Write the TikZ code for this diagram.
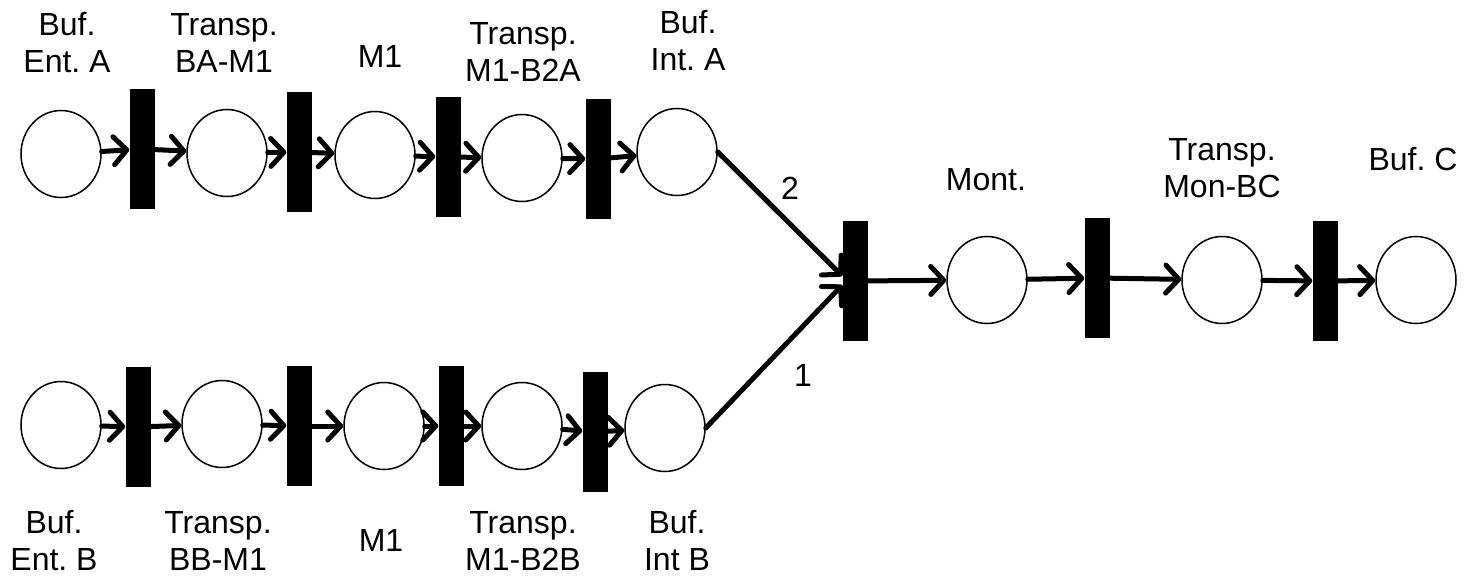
\documentclass[tikz,border=0pt]{standalone}
\usepackage{fontspec}
\setmainfont{Liberation Sans}
\usetikzlibrary{shapes.geometric,arrows.meta}
\frenchspacing

\begin{document}
\begin{tikzpicture}[x=1pt,y=-1pt,
        place/.style={ellipse,draw,line width=1.5pt,minimum width=80pt,minimum height=87pt,inner sep=0pt},
        trans/.style={rectangle,fill=black,minimum width=25pt,minimum height=120pt,inner sep=0pt},
        flow/.style={line width=5pt,line cap=round,-{Straight Barb[length=13pt,width=28pt,round]}},
        lbl/.style={align=center,inner sep=0pt,font=\fontsize{32}{37}\selectfont}]
        \useasboundingbox (0,0) rectangle (1474,577);

        % Line A
        \node[place] (pa1) at (61,154) {};
        \node[trans] (ta1) at (142,149) {};
        \node[place] (pa2) at (227,153) {};
        \node[trans] (ta2) at (299,152) {};
        \node[place] (pa3) at (375,155) {};
        \node[trans] (ta3) at (448,157) {};
        \node[place] (pa4) at (522,158) {};
        \node[trans] (ta4) at (598,159) {};
        \node[place] (pa5) at (677,152) {};

        % Line B
        \node[place] (pb1) at (61,425) {};
        \node[trans] (tb1) at (138,427) {};
        \node[place] (pb2) at (222,424) {};
        \node[trans] (tb2) at (299,426) {};
        \node[place] (pb3) at (384,426) {};
        \node[trans] (tb3) at (451,426) {};
        \node[place] (pb4) at (522,426) {};
        \node[trans] (tb4) at (595,432) {};
        \node[place] (pb5) at (665,428) {};

        % Assembly
        \node[trans] (tmont) at (855,281) {};
        \node[place] (pmont) at (987,280) {};
        \node[trans] (tmon) at (1097,278) {};
        \node[place] (ptr) at (1222,280) {};
        \node[trans] (tbc) at (1325,281) {};
        \node[place] (pbc) at (1416,280) {};

        \draw[flow] (pa1) -- (ta1);
        \draw[flow] (ta1) -- (pa2);
        \draw[flow] (pa2) -- (ta2);
        \draw[flow] (ta2) -- (pa3);
        \draw[flow] (pa3) -- (ta3);
        \draw[flow] (ta3) -- (pa4);
        \draw[flow] (pa4) -- (ta4);
        \draw[flow] (ta4) -- (pa5);

        \draw[flow] (pb1) -- (tb1);
        \draw[flow] (tb1) -- (pb2);
        \draw[flow] (pb2) -- (tb2);
        \draw[flow] (tb2) -- (pb3);
        \draw[flow] (pb3) -- (tb3);
        \draw[flow] (tb3) -- (pb4);
        \draw[flow] (pb4) -- (tb4);
        \draw[flow] (tb4) -- (pb5);

        \draw[flow] (pa5.east) -- ([yshift=5pt]tmont.west);
        \draw[flow] (pb5.east) -- ([yshift=-4pt]tmont.west);
        \draw[flow] (tmont) -- (pmont);
        \draw[flow] (pmont) -- (tmon);
        \draw[flow] (tmon) -- (ptr);
        \draw[flow] (ptr) -- (tbc);
        \draw[flow] (tbc) -- (pbc);

        % Weights
        \node[lbl] (w2) at (790,188) {2};
        \node[lbl] (w1) at (803,375) {1};

        % Labels
        \node[lbl] (la1) at (67,43) {Buf.\\Ent. A};
        \node[lbl] (la2) at (224,43) {Transp.\\BA-M1};
        \node[lbl] (la3) at (380,56) {M1};
        \node[lbl] (la4) at (523,52) {Transp.\\M1-B2A};
        \node[lbl] (la5) at (688,41) {Buf.\\Int. A};

        \node[lbl] (lb1) at (54,541) {Buf.\\Ent. B};
        \node[lbl] (lb2) at (218,541) {Transp.\\BB-M1};
        \node[lbl] (lb3) at (381,540) {M1};
        \node[lbl] (lb4) at (523,541) {Transp.\\M1-B2B};
        \node[lbl] (lb5) at (677,541) {Buf.\\Int B};

        \node[lbl] (lmont) at (986,180) {Mont.};
        \node[lbl] (ltr) at (1222,168) {Transp.\\Mon-BC};
        \node[lbl] (lbc) at (1413,159) {Buf. C};
\end{tikzpicture}
\end{document}
